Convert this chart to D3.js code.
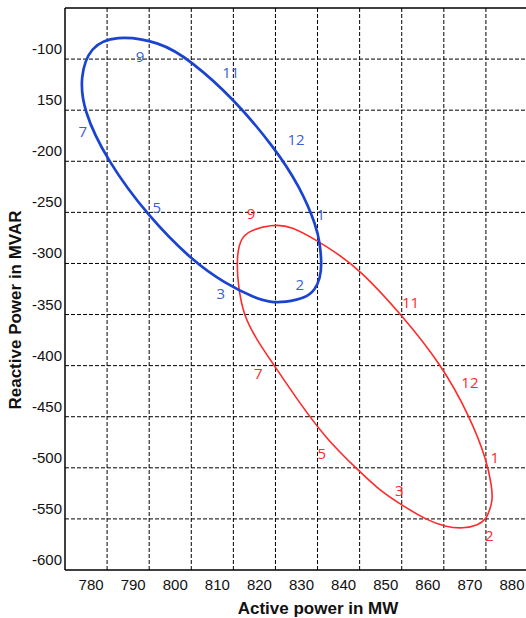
<!DOCTYPE html>
<html>
<head>
<meta charset="utf-8">
<script src="https://cdn.jsdelivr.net/npm/d3@7"></script>
<style>
  html, body { margin: 0; padding: 0; background: #fff; }
  svg { display: block; }
</style>
</head>
<body>
<svg id="chart" width="526" height="618"></svg>
<script>
// ---- data ----
const xTicks = [780, 790, 800, 810, 820, 830, 840, 850, 860, 870, 880];
const yTicks = [-100, -150, -200, -250, -300, -350, -400, -450, -500, -550, -600];
const yTickLabels = ["-100", "150", "-200", "-250", "-300", "-350", "-400", "-450", "-500", "-550", "-600"];

// blue loop (active MW, reactive MVAR) traced around the curve
const blueLoop = [
  [781.9, -76.4], [792.6, -83.0], [799.7, -100.9], [810.0, -138.4], [819.9, -187.3],
  [825.8, -224.9], [829.8, -264.0], [830.6, -281.9], [831.0, -301.5], [830.6, -314.5],
  [829.4, -326.0], [827.0, -334.1], [822.3, -338.0], [818.7, -338.0], [815.1, -333.8],
  [808.0, -319.4], [800.5, -298.3], [789.8, -254.2], [779.9, -198.8], [774.3, -149.8],
  [773.6, -117.2], [775.9, -87.9]
];
// red loop
const redLoop = [
  [819.1, -261.7], [823.8, -263.1], [830.2, -278.5], [834.1, -288.5], [840.1, -306.4],
  [850.0, -350.4], [859.5, -399.4], [866.2, -450.0], [870.2, -492.4],
  [871.4, -518.5], [871.6, -531.5], [870.9, -541.3], [870.0, -550.4], [868.2, -556.0],
  [864.6, -559.6], [860.3, -557.6], [855.9, -551.1], [850.0, -536.4], [844.8, -522.2],
  [840.1, -504.1], [831.8, -470.8], [824.6, -429.7], [819.9, -401.0], [815.4, -373.9],
  [812.4, -350.4], [811.2, -322.8], [810.8, -301.5], [811.2, -281.9], [812.8, -268.9]
];
// month markers
const blueMonths = ["9", "11", "12", "7", "5", "1", "2", "3"];
const blueMonthPos = [[787.8, -97.0], [809.4, -112.3], [824.9, -178.5], [774.2, -170.1],
                      [791.8, -245.0], [830.8, -251.9], [825.8, -320.4], [807.0, -328.6]];
const redMonths = ["9", "11", "12", "7", "5", "3", "1", "2"];
const redMonthPos = [[814.2, -250.9], [852.1, -337.4], [866.2, -416.3], [815.9, -406.9],
                     [831.0, -485.2], [849.4, -521.7], [872.1, -489.1], [870.8, -565.8]];

// ---- layout ----
const svg = d3.select("#chart");
const x = d3.scaleLinear().domain([770, 880]).range([65, 528]);
const y = d3.scaleLinear().domain([-600, -50]).range([570, 8]);

const grid = svg.append("g");
grid.selectAll("line.vx").data(xTicks).join("line")
  .attr("x1", d => x(d)).attr("x2", d => x(d))
  .attr("y1", y(-50)).attr("y2", y(-600))
  .attr("stroke", "#000").attr("stroke-width", 1).attr("stroke-dasharray", "4,2");
grid.selectAll("line.hy").data(yTicks.filter(d => d > -600)).join("line")
  .attr("x1", x(770)).attr("x2", 526)
  .attr("y1", d => y(d)).attr("y2", d => y(d))
  .attr("stroke", "#000").attr("stroke-width", 1).attr("stroke-dasharray", "4,2");

// frame: top, left, bottom
svg.append("line").attr("x1", x(770)).attr("x2", 526).attr("y1", y(-50)).attr("y2", y(-50))
  .attr("stroke", "#000").attr("stroke-width", 1.5);
svg.append("line").attr("x1", x(770)).attr("x2", x(770)).attr("y1", y(-50)).attr("y2", y(-600))
  .attr("stroke", "#000").attr("stroke-width", 1.5);
svg.append("line").attr("x1", x(770)).attr("x2", 526).attr("y1", y(-600)).attr("y2", y(-600))
  .attr("stroke", "#000").attr("stroke-width", 1.5);

// tick labels
const tickFont = "'Liberation Sans', Arial, sans-serif";
svg.append("g").selectAll("text").data(xTicks).join("text")
  .attr("x", d => x(d) - 16).attr("y", 590)
  .attr("text-anchor", "middle")
  .attr("font-family", tickFont).attr("font-size", 15).attr("fill", "#111")
  .text(d => d);
svg.append("g").selectAll("text").data(yTicks).join("text")
  .attr("x", 62).attr("y", d => y(d) - 5)
  .attr("text-anchor", "end")
  .attr("font-family", tickFont).attr("font-size", 15).attr("fill", "#111")
  .text((d, i) => yTickLabels[i]);

// axis titles
svg.append("text").attr("x", 318).attr("y", 614).attr("text-anchor", "middle")
  .attr("font-family", tickFont).attr("font-size", 17).attr("font-weight", "bold").attr("fill", "#111")
  .text("Active power in MW");
svg.append("text").attr("transform", "translate(21,310) rotate(-90)").attr("text-anchor", "middle")
  .attr("font-family", tickFont).attr("font-size", 17).attr("font-weight", "bold").attr("fill", "#111")
  .text("Reactive Power in MVAR");

// loops
const line = d3.line().x(d => x(d[0])).y(d => y(d[1])).curve(d3.curveBasisClosed);
svg.append("path").attr("d", line(redLoop)).attr("fill", "none")
  .attr("stroke", "#ff2a2a").attr("stroke-width", 1.6);
svg.append("path").attr("d", line(blueLoop)).attr("fill", "none")
  .attr("stroke", "#1a44d0").attr("stroke-width", 2.7);

// month labels
const monthFont = "'Open Sans', 'Noto Sans', sans-serif";
svg.append("g").selectAll("text").data(blueMonths).join("text")
  .attr("x", (d, i) => x(blueMonthPos[i][0])).attr("y", (d, i) => y(blueMonthPos[i][1]))
  .attr("text-anchor", "middle").attr("dominant-baseline", "central")
  .attr("font-family", monthFont).attr("font-size", 15).attr("fill", "#3a5fd0")
  .text(d => d);
svg.append("g").selectAll("text").data(redMonths).join("text")
  .attr("x", (d, i) => x(redMonthPos[i][0])).attr("y", (d, i) => y(redMonthPos[i][1]))
  .attr("text-anchor", "middle").attr("dominant-baseline", "central")
  .attr("font-family", monthFont).attr("font-size", 15).attr("fill", "#ff2a2a")
  .text(d => d);
</script>
</body>
</html>
